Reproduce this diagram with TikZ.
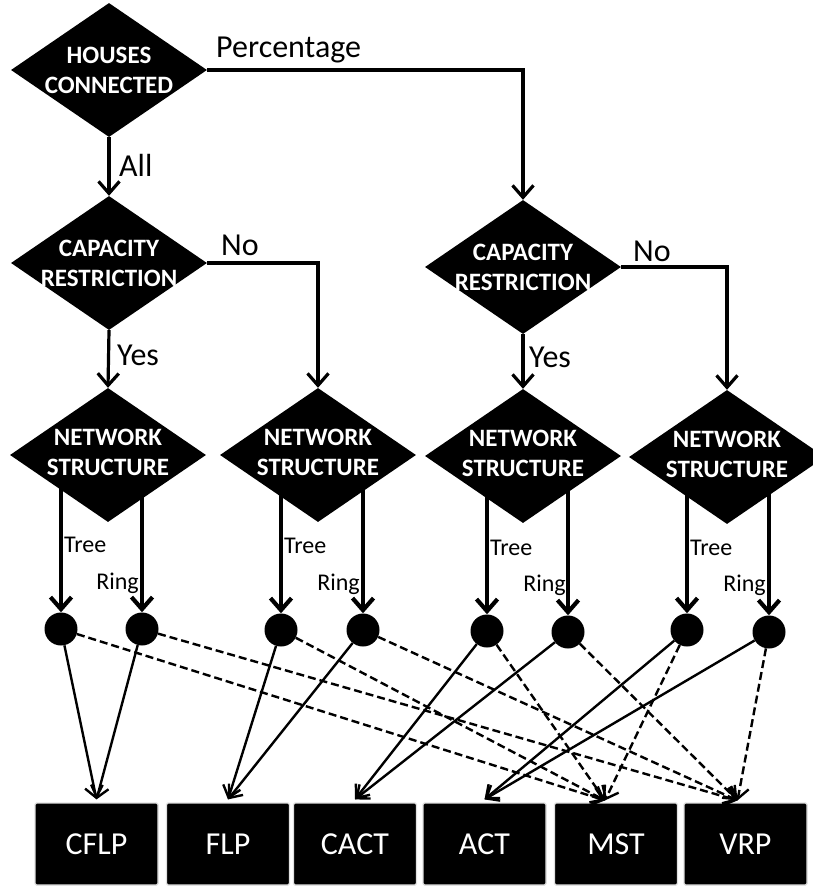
\documentclass[tikz,border=0pt]{standalone}
\usepackage{fontspec}
\setmainfont{Carlito}
\usetikzlibrary{arrows.meta,shapes.geometric,backgrounds}
\begin{document}
\begin{tikzpicture}[x=1pt,y=-1pt,
  dec/.style={diamond, fill=black, minimum width=196pt, minimum height=134pt, inner sep=0pt},
  dtxt/.style={text=white, align=center, inner sep=0pt, font=\bfseries\fontsize{25}{30}\selectfont},
  lbl/.style={font=\fontsize{32}{38}\selectfont, inner sep=0pt},
  smalllbl/.style={font=\fontsize{24}{29}\selectfont, inner sep=0pt},
  dot/.style={circle, fill=black, minimum size=33pt, inner sep=0pt},
  box/.style={fill=black, draw=black!12, line width=1.2pt, rounded corners=1.5pt, minimum width=123pt, minimum height=82pt, inner sep=0pt, text=white, font=\fontsize{32}{38}\selectfont},
  thk/.style={line width=3.2pt, -{Straight Barb[length=12pt,width=21pt]}},
  vthk/.style={line width=4.2pt, -{Straight Barb[length=12pt,width=21pt]}},
  thinarr/.style={line width=2.4pt, -{Straight Barb[length=11pt,width=18pt]}},
  dsh/.style={thinarr, dash pattern=on 8pt off 4pt},
]
\useasboundingbox (0,0) rectangle (812,892);

% decision diamonds
\node[dec, label={[dtxt]center:{HOUSES\\CONNECTED}}] (h) at (109,70) {};
\node[dec, label={[dtxt]center:{CAPACITY\\RESTRICTION}}] (c1) at (109,263) {};
\node[dec, label={[dtxt]center:{CAPACITY\\RESTRICTION}}] (c2) at (523,267) {};
\node[dec, label={[dtxt,yshift=3pt]center:{NETWORK\\STRUCTURE}}] (n1) at (108,455) {};
\node[dec, label={[dtxt,yshift=3pt]center:{NETWORK\\STRUCTURE}}] (n2) at (318,455) {};
\node[dec, label={[dtxt,yshift=3pt]center:{NETWORK\\STRUCTURE}}] (n3) at (523,456) {};
\node[dec, label={[dtxt,yshift=3pt]center:{NETWORK\\STRUCTURE}}] (n4) at (727,457) {};

% dots
\node[dot] (d1) at (61,629) {};
\node[dot] (d2) at (142,629) {};
\node[dot] (d3) at (281,630) {};
\node[dot] (d4) at (363,630) {};
\node[dot] (d5) at (487,631) {};
\node[dot] (d6) at (568,632) {};
\node[dot] (d7) at (687,630) {};
\node[dot] (d8) at (769,632) {};

% result boxes
\node[box] (cflp) at (96.5,844) {CFLP};
\node[box] (flp)  at (228,844) {FLP};
\node[box] (cact) at (355,844) {CACT};
\node[box] (act)  at (484.5,844) {ACT};
\node[box] (mst)  at (616,844) {MST};
\node[box] (vrp)  at (745.5,844) {VRP};

% top connectors
\draw[thk] (h.south) -- (c1.north);
\draw[thk] (h.east) -| (c2.north);
\draw[thk] (c1.east) -| (n2.north);
\draw[thk] (c1.south) -- (n1.north);
\draw[thk] (c2.east) -| (n4.north);
\draw[thk] (c2.south) -- (n3.north);

\node[lbl, anchor=west] (lall) at (119,165) {All};
\node[lbl, anchor=west] (lpct) at (216,50) {Percentage};
\node[lbl, anchor=west] (lno1) at (221,245) {No};
\node[lbl, anchor=west] (lyes1) at (117,355) {Yes};
\node[lbl, anchor=west] (lno2) at (633,251) {No};
\node[lbl, anchor=west] (lyes2) at (529,357) {Yes};

% network structure branches
\begin{pgfonlayer}{background}
\draw[vthk] (n1.center -| d1) -- (d1);
\draw[vthk] (n1.center -| d2) -- (d2);
\draw[vthk] (n2.center -| d3) -- (d3);
\draw[vthk] (n2.center -| d4) -- (d4);
\draw[vthk] (n3.center -| d5) -- (d5);
\draw[vthk] (n3.center -| d6) -- (d6);
\draw[vthk] (n4.center -| d7) -- (d7);
\draw[vthk] (n4.center -| d8) -- (d8);
\end{pgfonlayer}

\node[smalllbl, anchor=west] (t1) at (64,545) {Tree};
\node[smalllbl, anchor=east] (r1) at (139,583) {Ring};
\node[smalllbl, anchor=west] (t2) at (284,546) {Tree};
\node[smalllbl, anchor=east] (r2) at (360,584) {Ring};
\node[smalllbl, anchor=west] (t3) at (490,548) {Tree};
\node[smalllbl, anchor=east] (r3) at (566,585) {Ring};
\node[smalllbl, anchor=west] (t4) at (690,548) {Tree};
\node[smalllbl, anchor=east] (r4) at (766,585) {Ring};

% solid arrows to boxes
\draw[thinarr] (d1) -- ([yshift=3pt]cflp.north);
\draw[thinarr] (d2) -- ([yshift=3pt]cflp.north);
\draw[thinarr] (d3) -- ([yshift=3pt]flp.north);
\draw[thinarr] (d4) -- ([yshift=3pt]flp.north);
\draw[thinarr] (d5) -- ([yshift=3pt]cact.north);
\draw[thinarr] (d6) -- ([yshift=3pt]cact.north);
\draw[thinarr] (d7) -- ([yshift=3pt]act.north);
\draw[thinarr] (d8) -- ([yshift=3pt]act.north);

% dashed arrows to boxes
\draw[dsh] (d1) -- ([xshift=-11pt,yshift=2pt]mst.north);
\draw[dsh] (d3) -- ([xshift=-11pt,yshift=2pt]mst.north);
\draw[dsh] (d5) -- ([xshift=-11pt,yshift=2pt]mst.north);
\draw[dsh] (d7) -- ([xshift=-11pt,yshift=2pt]mst.north);
\draw[dsh] (d2) -- ([xshift=-8pt,yshift=2pt]vrp.north);
\draw[dsh] (d4) -- ([xshift=-8pt,yshift=2pt]vrp.north);
\draw[dsh] (d6) -- ([xshift=-8pt,yshift=2pt]vrp.north);
\draw[dsh] (d8) -- ([xshift=-8pt,yshift=2pt]vrp.north);
\end{tikzpicture}
\end{document}
